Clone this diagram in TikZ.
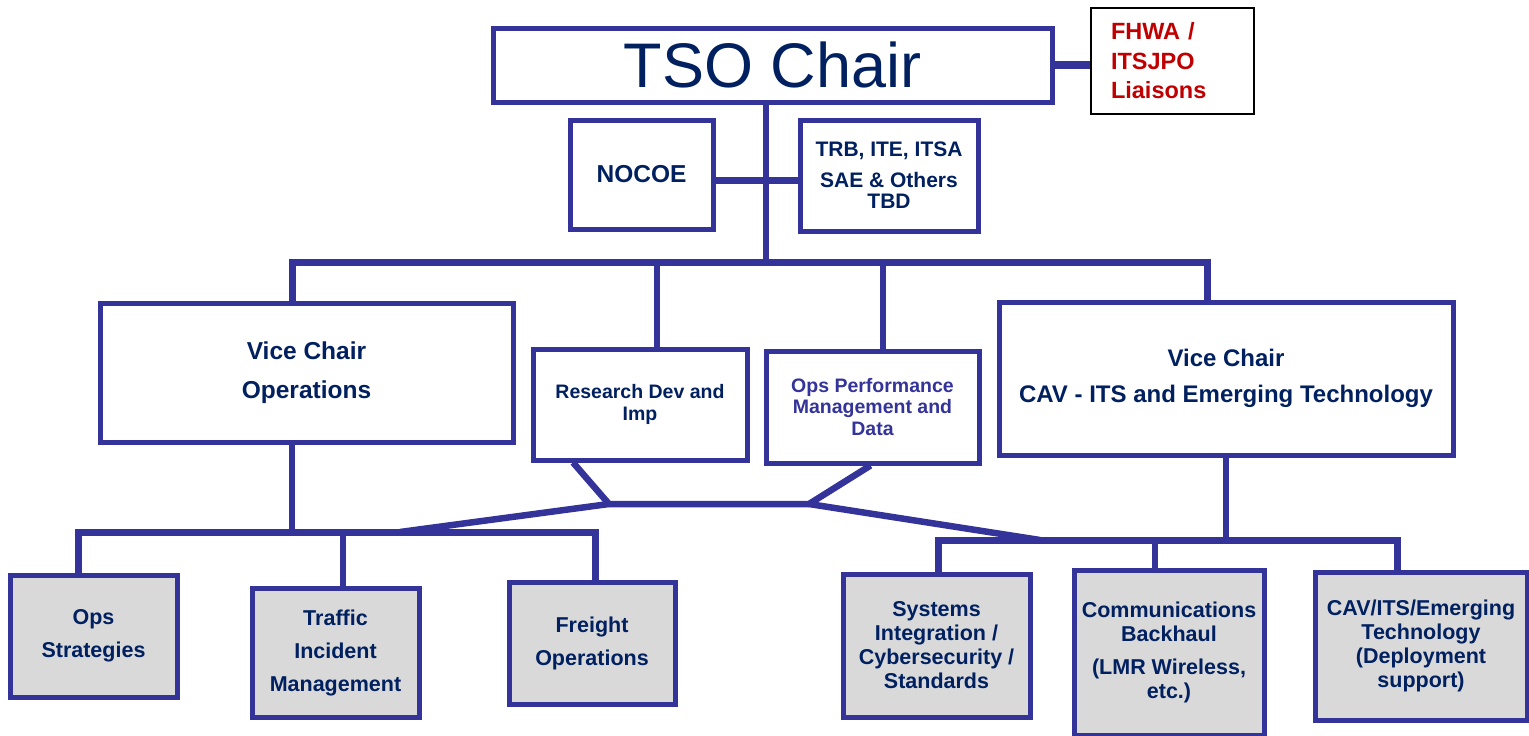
\documentclass[tikz,border=0pt]{standalone}
\usepackage{fontspec}
\setmainfont{Liberation Sans}
\definecolor{lc}{HTML}{333399}
\definecolor{tc}{HTML}{002060}
\definecolor{rc}{HTML}{C00000}
\definecolor{gf}{HTML}{D9D9D9}
\tikzset{
  box/.style={draw=lc, line width=5pt, fill=white, text=tc, align=center, inner sep=0pt},
  gbox/.style={box, fill=gf},
  conn/.style={draw=lc, line width=6.5pt},
  fb/.style={font=\bfseries\fontsize{#1}{#1}\selectfont},
}
\begin{document}
\begin{tikzpicture}[x=1pt,y=-1pt]
\useasboundingbox (0,0) rectangle (1529,736);
% junction coordinates
\coordinate (tapT) at (766,262);
\coordinate (barL) at (292,262);
\coordinate (barR) at (1207,262);
\coordinate (tapR) at (657,262);
\coordinate (tapP) at (883,262);
\coordinate (rA) at (609,504);
\coordinate (rB) at (809,504);
\coordinate (lJ) at (400,532);
\coordinate (lL) at (78,532);
\coordinate (lM) at (343,532);
\coordinate (lR) at (595,532);
\coordinate (rJ) at (1040,540);
\coordinate (sL) at (938,540);
\coordinate (sM) at (1155,540);
\coordinate (sR) at (1397,540);
\coordinate (sV) at (1226,540);

% nodes
\node[box, minimum width=559pt, minimum height=74pt, font=\fontsize{63}{63}\selectfont] (tso) at (772.5,65) {TSO Chair};
\node[draw=black, line width=2pt, fill=white, text=rc, align=left, text width=123pt, inner xsep=20pt, inner ysep=0pt, minimum height=106pt, font=\bfseries\fontsize{23.5}{29.5}\selectfont] (fhwa) at (1172.5,61) {FHWA /\\ITSJPO\\Liaisons};
\node[box, minimum width=143pt, minimum height=109pt, fb=24.5] (nocoe) at (641.5,174.5) {NOCOE};
\node[box, minimum width=178pt, minimum height=111pt, font=\bfseries\fontsize{21}{21}\selectfont] (trb) at (889,175.5) {TRB, ITE, ITSA\\[10pt]SAE \& Others\\TBD};
\node[box, minimum width=413pt, minimum height=139pt, font=\bfseries\fontsize{24.5}{39}\selectfont] (vcops) at (306.5,372.5) {Vice Chair\\Operations};
\node[box, minimum width=214pt, minimum height=111pt, font=\bfseries\fontsize{19.5}{22}\selectfont] (research) at (640,404.5) {Research Dev and\\Imp};
\node[box, minimum width=213pt, minimum height=112pt, text=lc, font=\bfseries\fontsize{19.5}{21.5}\selectfont] (opsperf) at (872.5,407) {Ops Performance\\Management and\\Data};
\node[box, minimum width=454pt, minimum height=153pt, font=\bfseries\fontsize{24}{36}\selectfont] (vccav) at (1226,378.5) {Vice Chair\\CAV - ITS and Emerging Technology};
\node[gbox, minimum width=167pt, minimum height=122pt, font=\bfseries\fontsize{21.5}{33}\selectfont] (opsstr) at (93.5,636) {Ops\\Strategies};
\node[gbox, minimum width=167pt, minimum height=129pt, font=\bfseries\fontsize{21.5}{33}\selectfont] (tim) at (335.5,652.5) {Traffic\\Incident\\Management};
\node[gbox, minimum width=166pt, minimum height=122pt, font=\bfseries\fontsize{21.5}{33}\selectfont] (freight) at (592,643) {Freight\\Operations};
\node[gbox, minimum width=187pt, minimum height=143pt, font=\bfseries\fontsize{21.5}{24}\selectfont] (sys) at (936.5,645.5) {Systems\\Integration /\\Cybersecurity /\\Standards};
\node[gbox, minimum width=190pt, minimum height=165pt, font=\bfseries\fontsize{21.5}{24}\selectfont] (comm) at (1169,652.5) {Communications\\Backhaul\\[9pt](LMR Wireless,\\etc.)};
\node[gbox, minimum width=212pt, minimum height=148pt, font=\bfseries\fontsize{21.5}{24}\selectfont] (cav) at (1421,646) {CAV/ITS/Emerging\\Technology\\(Deployment\\support)};

% connectors
\draw[conn, line width=8pt] (tso.east) -- (fhwa.west |- tso.east);
\draw[conn] (tapT |- tso.south) -- (tapT);
\draw[conn] ([yshift=-6pt]nocoe.east) -- ([yshift=-6pt]nocoe.east -| trb.west);
\draw[conn, line width=7pt] (barL |- vcops.north) -- (barL) -- (barR) -- (barR |- vccav.north);
\draw[conn] (tapR) -- (tapR |- research.north);
\draw[conn] (tapP) -- (tapP |- opsperf.north);
\draw[conn, line join=round] ([xshift=-67pt]research.south) -- (rA) -- (rB) -- ([xshift=-2pt]opsperf.south);
\draw[conn] (rA) -- (lJ);
\draw[conn] (barL |- vcops.south) -- (barL |- lL);
\draw[conn, line width=7pt] (lL |- opsstr.north) -- (lL) -- (lR) -- (lR |- freight.north);
\draw[conn] (lM) -- (lM |- tim.north);
\draw[conn] (rB) -- (rJ);
\draw[conn] (vccav.south) -- (sV);
\draw[conn, line width=7pt] (sL |- sys.north) -- (sL) -- (sR) -- (sR |- cav.north);
\draw[conn] (sM) -- (sM |- comm.north);
\end{tikzpicture}
\end{document}
